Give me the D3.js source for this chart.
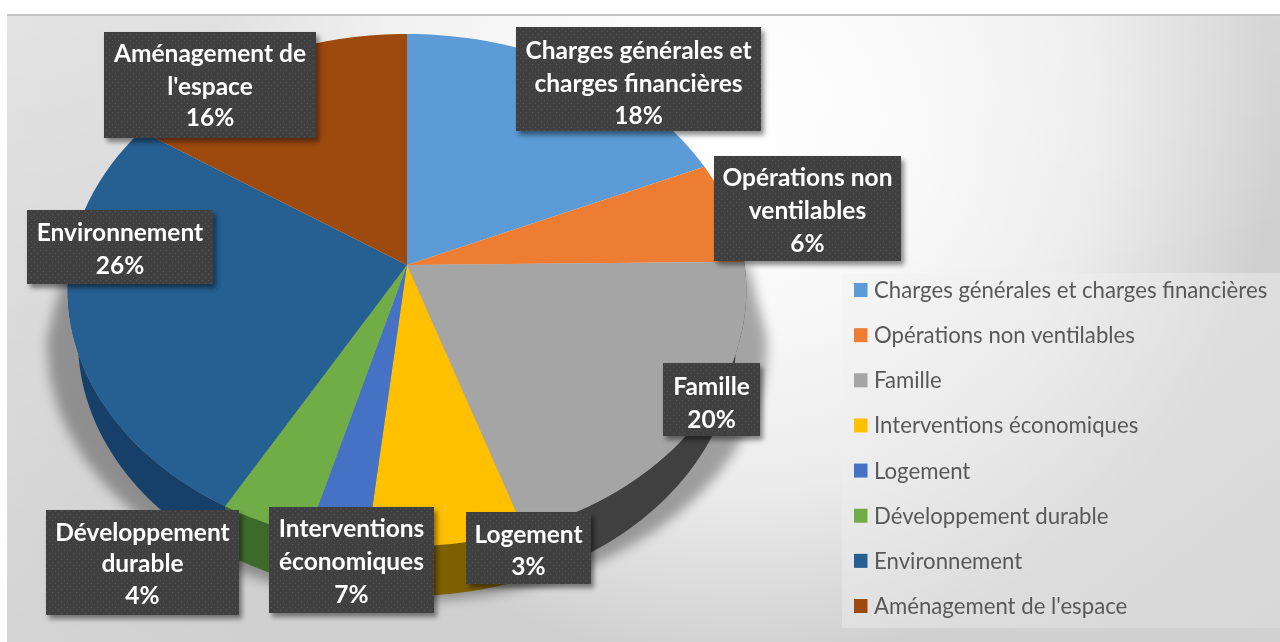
<!DOCTYPE html>
<html><head><meta charset="utf-8">
<script src="https://cdn.jsdelivr.net/npm/d3@7"></script>
<style>html,body{margin:0;padding:0;background:#fff;overflow:hidden}svg{display:block}text{font-family:Lato,"Open Sans",sans-serif}</style>
</head><body><svg id="c" width="1280" height="642"></svg>
<script>
const categories=["Charges générales et charges financières","Opérations non ventilables","Famille","Interventions économiques","Logement","Développement durable","Environnement","Aménagement de l'espace"];
const values=[18.4,6.4,20.1,6.8,2.6,3.9,26.2,15.6];
const colors=["#5b9bd5","#ed7d31","#a5a5a5","#ffc000","#4472c4","#70ad47","#255e91","#9e480e"];
const wallColors=["#2e5f8c","#8f4a1b","#404040","#7f6000","#2b4a80","#3e6b2a","#17406a","#62300a"];
const labelLines=[["Charges générales et","charges financières"],["Opérations non","ventilables"],["Famille"],["Interventions","économiques"],["Logement"],["Développement","durable"],["Environnement"],["Aménagement de","l'espace"]];

// layout (not data)
const labelBoxes=[[516,27,245,104,[50,83,115]],[714,156,187,105,[177,210,243]],[663,363,97,73,[386,419]],[269,507,165,106,[528,561,594]],[466,512,125,72,[534,566]],[46,510,193,105,[532,563,595]],[27,210,186,74,[232,265]],[104,32,212,106,[53,86,117]]];
const cx=407,cy=265,A=253.6,B=337.7,C=-0.0977,depth=50;
const proj=a=>{const u=Math.sin(a),v=-Math.cos(a),w=1+C*v;return [cx+B*u/w,cy+A*v/w];};
const base=(p,s,dy)=>[cx+(p[0]-cx)*s,p[1]+dy];

const svg=d3.select("#c");
const defs=svg.append("defs");
const bg=defs.append("radialGradient").attr("id","bg").attr("gradientUnits","userSpaceOnUse").attr("cx",740).attr("cy",130).attr("r",860);
[[0,"#ffffff"],[0.22,"#f8f8f8"],[0.42,"#ebebeb"],[0.62,"#d0d0d0"],[0.8,"#d0d0d0"],[1,"#d4d4d4"]].forEach(s=>bg.append("stop").attr("offset",s[0]).attr("stop-color",s[1]));
const tl=defs.append("linearGradient").attr("id","tl").attr("x1",0).attr("y1",0).attr("x2",0.45).attr("y2",0.7);
tl.append("stop").attr("offset",0).attr("stop-color","#fff").attr("stop-opacity",.4);
tl.append("stop").attr("offset",1).attr("stop-color","#fff").attr("stop-opacity",0);
const pat=defs.append("pattern").attr("id","dots").attr("width",6).attr("height",6).attr("patternUnits","userSpaceOnUse");
pat.append("rect").attr("width",6).attr("height",6).attr("fill","#3f3f3f");
pat.append("rect").attr("x",1).attr("y",1).attr("width",1).attr("height",1).attr("fill","#555");
pat.append("rect").attr("x",4).attr("y",4).attr("width",1).attr("height",1).attr("fill","#555");
const sh=defs.append("filter").attr("id","sh").attr("x","-20%").attr("y","-20%").attr("width","140%").attr("height","140%");
sh.append("feDropShadow").attr("dx",3).attr("dy",4).attr("stdDeviation",2.5).attr("flood-color","#000").attr("flood-opacity",.45);
defs.append("filter").attr("id","soft").attr("x","-20%").attr("y","-20%").attr("width","140%").attr("height","140%").append("feGaussianBlur").attr("stdDeviation",6);
defs.append("filter").attr("id","aa").append("feGaussianBlur").attr("stdDeviation",.5);
const lg=defs.append("linearGradient").attr("id","lg").attr("x1",0).attr("y1",0).attr("x2",1).attr("y2",1);
lg.append("stop").attr("offset",0).attr("stop-color","#f4f4f4");
lg.append("stop").attr("offset",1).attr("stop-color","#dcdcdc");

const root=svg.append("g").attr("filter","url(#aa)");
root.append("rect").attr("x",7).attr("y",15).attr("width",1273).attr("height",627).attr("fill","url(#bg)");
root.append("rect").attr("x",7).attr("y",15).attr("width",1273).attr("height",627).attr("fill","url(#tl)");
root.append("rect").attr("x",7).attr("y",14).attr("width",1273).attr("height",2).attr("fill","#c4c4c4");

const arcs=d3.pie().sort(null).value(d=>d)(values);
const line=d3.line();
const samples=(a0,a1)=>d3.range(0,41).map(i=>a0+(a1-a0)*i/40);

// cast shadow: tapers up to the widest points of the pie
const shadowRim=d3.range(0,81).map(i=>Math.PI*0.52+Math.PI*0.96*i/80).map(a=>base(proj(a),1.06,55));
root.append("path").attr("filter","url(#soft)").attr("fill","#000").attr("opacity",.33)
 .attr("d",line([[cx+341,265]].concat(shadowRim,[[cx-341,265]]))+"Z");

// side wall
root.append("g").selectAll("path").data(arcs).join("path")
 .attr("fill",(d,i)=>wallColors[i])
 .attr("d",d=>{
   const lo=Math.max(d.startAngle,Math.PI*0.45),hi=Math.min(d.endAngle,Math.PI*1.55);
   if(hi<=lo) return null;
   const top=samples(lo,hi).map(proj);
   const bot=top.slice().reverse().map(p=>base(p,0.97,depth));
   return line(top.concat(bot))+"Z";
 });
// top face
root.append("g").selectAll("path").data(arcs).join("path")
 .attr("fill",(d,i)=>colors[i])
 .attr("d",d=>line([[cx,cy]].concat(samples(d.startAngle,d.endAngle).map(proj)))+"Z");

// legend
root.append("rect").attr("x",842).attr("y",273).attr("width",438).attr("height",355).attr("fill","url(#lg)").attr("opacity",.6);
const rowY=d3.scalePoint().domain(categories).range([290,606]);
const leg=root.append("g").selectAll("g").data(categories).join("g").attr("transform",d=>`translate(854,${rowY(d)})`);
leg.append("rect").attr("y",-7).attr("width",13.5).attr("height",14).attr("fill",(d,i)=>colors[i]);
leg.append("text").attr("x",20).attr("y",8).attr("font-size",22.2).attr("fill","#595959").text(d=>d);

// data labels
const lab=root.append("g").selectAll("g").data(arcs).join("g");
lab.append("rect").attr("x",(d,i)=>labelBoxes[i][0]).attr("y",(d,i)=>labelBoxes[i][1]).attr("width",(d,i)=>labelBoxes[i][2]).attr("height",(d,i)=>labelBoxes[i][3]).attr("fill","url(#dots)").attr("filter","url(#sh)");
lab.each(function(d,i){
  const g=d3.select(this),b=labelBoxes[i];
  const lines=labelLines[i].concat([Math.round(d.value)+"%"]);
  lines.forEach((t,j)=>g.append("text").attr("x",b[0]+b[2]/2).attr("y",b[4][j]+9).attr("text-anchor","middle").attr("font-size",24.5).attr("font-weight",700).attr("fill","#fff").text(t));
});
</script></body></html>
